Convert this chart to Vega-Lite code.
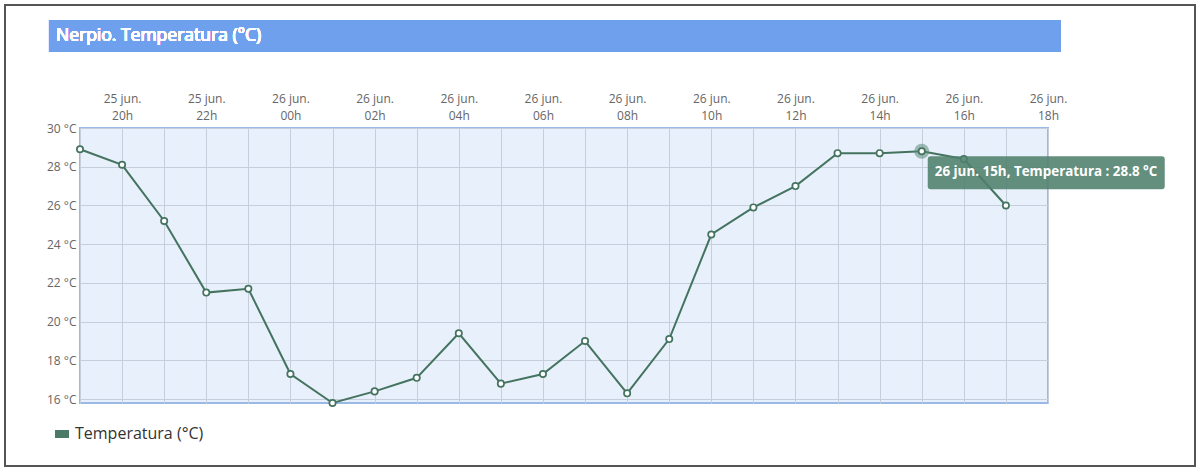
{
  "$schema": "https://vega.github.io/schema/vega-lite/v6.json",
  "background": "white",
  "padding": {"left": 80, "top": 128, "right": 152, "bottom": 71},
  "autosize": "none",
  "config": {"font": "Open Sans", "view": {"stroke": null}},
  "width": 968,
  "height": 275,
  "view": {"fill": "#e8f0fb", "stroke": "#9bb9e6", "strokeWidth": 2},
  "data": {"values": [
    {"hora": "2024-06-25T19:00:00", "temp": 28.9},
    {"hora": "2024-06-25T20:00:00", "temp": 28.1},
    {"hora": "2024-06-25T21:00:00", "temp": 25.2},
    {"hora": "2024-06-25T22:00:00", "temp": 21.5},
    {"hora": "2024-06-25T23:00:00", "temp": 21.7},
    {"hora": "2024-06-26T00:00:00", "temp": 17.3},
    {"hora": "2024-06-26T01:00:00", "temp": 15.8},
    {"hora": "2024-06-26T02:00:00", "temp": 16.4},
    {"hora": "2024-06-26T03:00:00", "temp": 17.1},
    {"hora": "2024-06-26T04:00:00", "temp": 19.4},
    {"hora": "2024-06-26T05:00:00", "temp": 16.8},
    {"hora": "2024-06-26T06:00:00", "temp": 17.3},
    {"hora": "2024-06-26T07:00:00", "temp": 19.0},
    {"hora": "2024-06-26T08:00:00", "temp": 16.3},
    {"hora": "2024-06-26T09:00:00", "temp": 19.1},
    {"hora": "2024-06-26T10:00:00", "temp": 24.5},
    {"hora": "2024-06-26T11:00:00", "temp": 25.9},
    {"hora": "2024-06-26T12:00:00", "temp": 27.0},
    {"hora": "2024-06-26T13:00:00", "temp": 28.7},
    {"hora": "2024-06-26T14:00:00", "temp": 28.7},
    {"hora": "2024-06-26T15:00:00", "temp": 28.8},
    {"hora": "2024-06-26T16:00:00", "temp": 28.4},
    {"hora": "2024-06-26T17:00:00", "temp": 26.0}
  ]},
  "encoding": {
    "x": {
      "field": "hora", "type": "temporal",
      "scale": {"domain": [
        {"year": 2024, "month": 6, "date": 25, "hours": 19},
        {"year": 2024, "month": 6, "date": 26, "hours": 18}
      ]},
      "axis": {
        "orient": "top", "title": null,
        "grid": true, "gridColor": "#c6cedb", "gridOpacity": 1,
        "ticks": false, "domain": false,
        "labelExpr": "hours(datum.value) % 2 == 0 ? [timeFormat(datum.value, '%d') + ' jun.', timeFormat(datum.value, '%Hh')] : ''",
        "labelLineHeight": 17,
        "labelFontSize": 12, "labelColor": "#666666", "labelPadding": 23,
        "labelFlush": false, "labelOverlap": false,
        "labelFont": "Open Sans"
      }
    },
    "y": {
      "field": "temp", "type": "quantitative",
      "scale": {"domain": [15.8, 30], "nice": false, "zero": false},
      "axis": {
        "title": null, "values": [16, 18, 20, 22, 24, 26, 28, 30],
        "labelExpr": "datum.value + ' °C'",
        "grid": true, "gridColor": "#c6cedb", "gridOpacity": 1,
        "ticks": false, "domain": false,
        "labelFontSize": 12, "labelColor": "#666666", "labelPadding": 4,
        "labelFont": "Open Sans"
      }
    }
  },
  "layer": [
    {
      "mark": {"type": "rect", "fill": "transparent", "stroke": "#555555", "strokeWidth": 1.5, "clip": false},
      "encoding": {
        "x": {"datum": {"year": 2024, "month": 6, "date": 25, "hours": 17, "minutes": 13, "seconds": 5}},
        "x2": {"datum": {"year": 2024, "month": 6, "date": 26, "hours": 21, "minutes": 29, "seconds": 34}},
        "y": {"datum": 36.35},
        "y2": {"datum": 12.55}
      }
    },
    {
      "mark": {"type": "rect", "fill": "#6fa0ee", "clip": false},
      "encoding": {
        "x": {"datum": {"year": 2024, "month": 6, "date": 25, "hours": 18, "minutes": 15, "seconds": 48}},
        "x2": {"datum": {"year": 2024, "month": 6, "date": 26, "hours": 18, "minutes": 18, "seconds": 32}},
        "y": {"datum": 35.58},
        "y2": {"datum": 33.92}
      }
    },
    {
      "mark": {"type": "text", "align": "left", "baseline": "middle", "color": "white", "fontSize": 17.5, "fontWeight": 400, "font": "Open Sans", "clip": false, "text": "Nerpio. Temperatura (°C)"},
      "encoding": {
        "x": {"datum": {"year": 2024, "month": 6, "date": 25, "hours": 18, "minutes": 25, "seconds": 47}},
        "y": {"datum": 34.75}
      }
    },
    {
      "mark": {"type": "line", "strokeWidth": 2},
      "encoding": {
        "color": {
          "datum": "Temperatura (°C)",
          "scale": {"range": ["#44735f"]},
          "legend": {
            "title": null, "orient": "none", "legendX": -26, "legendY": 298,
            "labelFontSize": 16, "labelColor": "#333333", "labelFont": "Open Sans",
            "symbolType": "M-1,-0.57H1V0.57H-1Z", "symbolSize": 196,
            "symbolFillColor": "#4a7a66", "symbolStrokeWidth": 0,
            "labelOffset": 5
          }
        }
      }
    },
    {
      "transform": [{"filter": "hours(datum.hora) == 15"}],
      "mark": {"type": "point", "filled": true, "size": 230, "color": "#5b8a77", "opacity": 0.55}
    },
    {
      "mark": {"type": "point", "filled": true, "fill": "white", "stroke": "#44735f", "strokeWidth": 1.7, "size": 40, "opacity": 1}
    },
    {
      "transform": [{"filter": "hours(datum.hora) == 15"}],
      "mark": {
        "type": "point", "filled": true, "size": 40000, "color": "#4f7f6c", "opacity": 0.88, "clip": false,
        "shape": "M0.09,0.05H2.40Q2.43,0.05 2.43,0.08V0.35Q2.43,0.38 2.40,0.38H0.09Q0.06,0.38 0.06,0.35V0.08Q0.06,0.05 0.09,0.05Z"
      }
    },
    {
      "transform": [
        {"filter": "hours(datum.hora) == 15"},
        {"calculate": "'26 jun. 15h, Temperatura : ' + datum.temp + ' °C'", "as": "etiqueta"}
      ],
      "mark": {"type": "text", "align": "left", "baseline": "middle", "dx": 13, "dy": 21, "color": "white", "fontSize": 13.4, "fontWeight": "bold", "font": "Open Sans"},
      "encoding": {"text": {"field": "etiqueta"}}
    }
  ]
}
